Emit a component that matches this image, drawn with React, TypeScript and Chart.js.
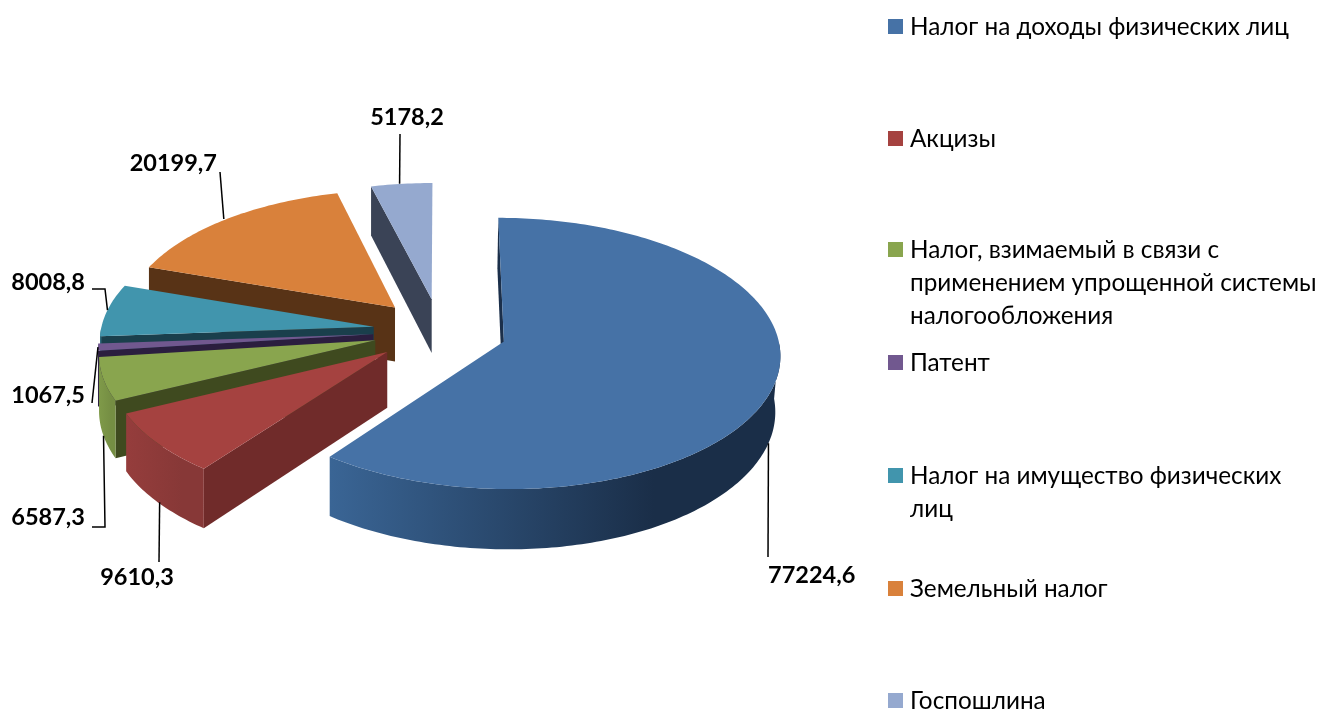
import React, { useEffect, useRef } from "react";
import { Chart, registerables } from "chart.js";

Chart.register(...registerables);

const categories = [
  "Налог на доходы физических лиц",
  "Акцизы",
  "Налог, взимаемый в связи с применением упрощенной системы налогообложения",
  "Патент",
  "Налог на имущество физических лиц",
  "Земельный налог",
  "Госпошлина",
];
const values = [77224.6, 9610.3, 6587.3, 1067.5, 8008.8, 20199.7, 5178.2];

const topColors = ["#4672A6", "#A54240", "#89A54E", "#71588F", "#4195AD", "#D9813B", "#95A9CF"];
const radialWallColors = ["#1B2F4A", "#702B2A", "#3F4A1F", "#2B1E3F", "#1A3F4C", "#583316", "#3A4356"];
const outerWallFrom = ["#3A6595", "#953D3C", "#7F9A49", "#4A3A60", "#2F6A7C", "#A0602C", "#5A6A85"];
const outerWallTo = ["#1A2E48", "#873837", "#758E43", "#4A3A60", "#2F6A7C", "#A0602C", "#5A6A85"];

const PIE_RADIUS = 273;
const EXPLODE = 67;
const TILT = 0.49;
const PERSPECTIVE = 0.000325;
const DEPTH = 55;
const BASE_SHRINK = 0.015;

const labelBoxes: [number, number, string][] = [
  [768, 575, "left"],
  [137, 577, "center"],
  [85, 517, "right"],
  [85, 395, "right"],
  [85, 282, "right"],
  [217, 163, "right"],
  [407, 117, "center"],
];
const leaderBends: [number, number][][] = [
  [[768, 557]],
  [[159, 562]],
  [[105, 527], [92, 527]],
  [[92, 403]],
  [[105, 289], [92, 289]],
  [[220, 172]],
  [[400, 134]],
];
const leaderDrop = [1, 1, 1, 0, 0, 0, 0];
const leaderStartShift = [0, 2, 0, 0, 0, -3, -2];

const legendFirstLineY = [27, 139, 250, 363, 476, 589, 701];
const LEGEND_SWATCH_X = 888;
const LEGEND_TEXT_X = 910;
const LEGEND_LINE = 33;
const LEGEND_WRAP = 412;
const LEGEND_FONT = '24.3px Lato, "Open Sans", sans-serif';
const LABEL_FONT = 'bold 23.5px Lato, "Open Sans", sans-serif';

function sliceGeometry(el: any, offset: number) {
  const { x, y, startAngle, endAngle, outerRadius } = el.getProps(
    ["x", "y", "startAngle", "endAngle", "outerRadius"],
    true
  );
  const mid = (startAngle + endAngle) / 2;
  const ax = Math.cos(mid) * offset;
  const ay = Math.sin(mid) * offset;
  const project = (px: number, py: number) => {
    const s = 1 + py * PERSPECTIVE;
    const sx = x + px * s;
    return {
      x: sx,
      y: y + py * TILT * s,
      h: DEPTH * s,
      bx: sx - BASE_SHRINK * Math.max(0, sx - x),
    };
  };
  const steps = Math.max(2, Math.ceil(((endAngle - startAngle) * 180) / Math.PI));
  const arc: any[] = [];
  for (let i = 0; i <= steps; i++) {
    const t = startAngle + ((endAngle - startAngle) * i) / steps;
    const p = project(ax + Math.cos(t) * outerRadius, ay + Math.sin(t) * outerRadius);
    p.t = t;
    arc.push(p);
  }
  const apex = project(ax, ay);
  const midPoint = project(ax + Math.cos(mid) * outerRadius, ay + Math.sin(mid) * outerRadius);
  return { arc, apex, midPoint, startAngle, endAngle };
}

function wrapText(ctx: CanvasRenderingContext2D, text: string, limit: number) {
  const lines: string[] = [];
  let line = "";
  for (const word of text.split(" ")) {
    const next = line ? line + " " + word : word;
    if (line && ctx.measureText(next).width > limit) {
      lines.push(line);
      line = word;
    } else {
      line = next;
    }
  }
  lines.push(line);
  return lines;
}

const pie3d = {
  id: "pie3d",
  beforeDatasetDraw(chart: any, args: any) {
    const { ctx } = chart;
    const meta = args.meta;
    for (let i = meta.data.length - 1; i >= 0; i--) {
      const el = meta.data[i];
      const { arc, apex, startAngle, endAngle } = sliceGeometry(el, el.options.offset);
      const first = arc[0];
      const last = arc[arc.length - 1];

      ctx.fillStyle = radialWallColors[i];
      const quad = (edge: any) => {
        ctx.beginPath();
        ctx.moveTo(apex.x, apex.y);
        ctx.lineTo(edge.x, edge.y);
        ctx.lineTo(edge.bx, edge.y + edge.h);
        ctx.lineTo(apex.bx, apex.y + apex.h);
        ctx.closePath();
        ctx.fill();
      };
      if (-Math.cos(startAngle) > -0.001) quad(first);
      if (Math.cos(endAngle) > 0.001) quad(last);

      const front = arc.filter((p: any) => Math.sin(p.t) > 0);
      if (front.length > 1) {
        const xs = arc.map((p: any) => p.x);
        const lo = Math.min(...xs);
        const hi = Math.max(...xs);
        const grad = ctx.createLinearGradient(lo, 0, lo + (hi - lo) * 0.72, 0);
        grad.addColorStop(0, outerWallFrom[i]);
        grad.addColorStop(1, outerWallTo[i]);
        ctx.fillStyle = grad;
        ctx.beginPath();
        front.forEach((p: any, k: number) => (k ? ctx.lineTo(p.x, p.y) : ctx.moveTo(p.x, p.y)));
        for (let k = front.length - 1; k >= 0; k--) ctx.lineTo(front[k].bx, front[k].y + front[k].h);
        ctx.closePath();
        ctx.fill();
      }

      ctx.fillStyle = topColors[i];
      ctx.beginPath();
      ctx.moveTo(apex.x, apex.y);
      arc.forEach((p: any) => ctx.lineTo(p.x, p.y));
      ctx.closePath();
      ctx.fill();
    }
    return false;
  },
  afterDatasetsDraw(chart: any) {
    const { ctx } = chart;
    const meta = chart.getDatasetMeta(0);
    ctx.save();
    ctx.strokeStyle = "#000000";
    ctx.lineWidth = 1.5;
    meta.data.forEach((el: any, i: number) => {
      const { midPoint } = sliceGeometry(el, el.options.offset);
      ctx.beginPath();
      ctx.moveTo(
        (leaderDrop[i] ? midPoint.bx : midPoint.x) + leaderStartShift[i],
        midPoint.y + leaderDrop[i] * midPoint.h
      );
      leaderBends[i].forEach(([x, y]) => ctx.lineTo(x, y));
      ctx.stroke();
    });

    ctx.fillStyle = "#000000";
    ctx.textBaseline = "middle";
    ctx.font = LABEL_FONT;
    values.forEach((v, i) => {
      const [x, y, align] = labelBoxes[i];
      ctx.textAlign = align as CanvasTextAlign;
      ctx.fillText(String(v).replace(".", ","), x, y);
    });

    ctx.font = LEGEND_FONT;
    ctx.textAlign = "left";
    categories.forEach((name, i) => {
      const y0 = legendFirstLineY[i];
      ctx.fillStyle = topColors[i];
      ctx.fillRect(LEGEND_SWATCH_X, y0 - 8, 15, 15);
      ctx.fillStyle = "#000000";
      wrapText(ctx, name, LEGEND_WRAP).forEach((line, k) => {
        ctx.fillText(line, LEGEND_TEXT_X, y0 + k * LEGEND_LINE);
      });
    });
    ctx.restore();
  },
};

export default function App() {
  const ref = useRef<HTMLCanvasElement>(null);
  useEffect(() => {
    const chart = new Chart(ref.current as HTMLCanvasElement, {
      type: "pie",
      data: {
        labels: categories,
        datasets: [
          {
            data: values,
            backgroundColor: topColors,
            borderWidth: 0,
            offset: EXPLODE,
            radius: PIE_RADIUS,
          } as any,
        ],
      },
      options: {
        responsive: false,
        animation: false,
        layout: { padding: { left: 0, top: 0, right: 445, bottom: 49 } },
        plugins: { legend: { display: false }, tooltip: { enabled: false } },
      },
      plugins: [pie3d],
    } as any);
    return () => chart.destroy();
  }, []);
  return (
    <canvas
      ref={ref}
      width={1325}
      height={711}
      style={{ position: "absolute", left: 0, top: 0, width: 1325, height: 711, display: "block" }}
    />
  );
}
